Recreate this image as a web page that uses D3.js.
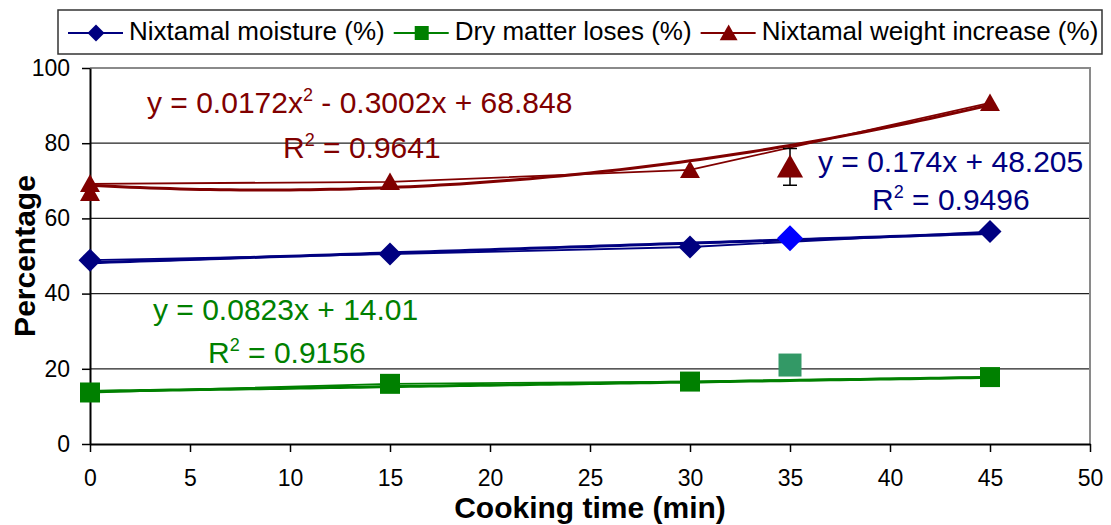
<!DOCTYPE html>
<html>
<head>
<meta charset="utf-8">
<script src="https://cdn.jsdelivr.net/npm/d3@7"></script>
<style>
  body { margin: 0; background: #fff; }
  text { font-family: "Liberation Sans", Arial, sans-serif; }
</style>
</head>
<body>
<svg id="chart" width="1111" height="525"></svg>
<script>
// values
var times = [0, 15, 30, 45];
var moisture = [48.9, 50.5, 52.4, 56.5];
var dryLoss = [13.7, 16.0, 16.6, 17.8];
var weightInc = [69.2, 69.7, 72.9, 90.7];

// separate points (other colour / error bar)
var extraMoisture = [{ t: 35, v: 54.7 }];
var extraDry = [{ t: 35, v: 21.0 }];
var extraWeight = [{ t: 0, v: 66.8, err: 0 }, { t: 35, v: 73.7, err: 4.9 }];

// trend line coefficients as printed on the chart
var moistTrend = [48.205, 0.174, 0];
var dryTrend = [14.01, 0.0823, 0];
var weightTrend = [68.848, -0.3002, 0.0172];

var xTicks = [0, 5, 10, 15, 20, 25, 30, 35, 40, 45, 50];
var yTicks = [0, 20, 40, 60, 80, 100];

var svg = d3.select("#chart"),
    x = d3.scaleLinear().domain([0, 50]).range([90, 1090]),
    y = d3.scaleLinear().domain([0, 100]).range([444, 68]);

// custom marker shapes (Excel style), size = width in px
var diamond = { draw: function (c, s) { var r = s / 2; c.moveTo(0, -r); c.lineTo(r, 0); c.lineTo(0, r); c.lineTo(-r, 0); c.closePath(); } };
var square = { draw: function (c, s) { var r = s / 2; c.rect(-r, -r, s, s); } };
var triangle = { draw: function (c, s) { var r = s / 2; c.moveTo(0, -r); c.lineTo(r * 1.05, r * 0.85); c.lineTo(-r * 1.05, r * 0.85); c.closePath(); } };

// grid + frame
svg.selectAll(".grid")
    .data([20, 40, 60, 80])
    .enter().append("line")
    .attr("x1", x(0)).attr("x2", x(50))
    .attr("y1", function (d) { return y(d); }).attr("y2", function (d) { return y(d); })
    .attr("stroke", "#222").attr("stroke-width", 1.2);

svg.append("path")
    .attr("d", "M" + x(0) + "," + y(100) + "H" + x(50) + "V" + y(0))
    .attr("fill", "none").attr("stroke", "#8a8a8a").attr("stroke-width", 2);

// axes
var yAxis = svg.append("g")
    .attr("transform", "translate(" + x(0) + ",0)")
    .call(d3.axisLeft(y).tickValues(yTicks).tickSize(8).tickSizeOuter(0).tickPadding(12));
var xAxis = svg.append("g")
    .attr("transform", "translate(0," + y(0) + ")")
    .call(d3.axisBottom(x).tickValues(xTicks).tickSize(8).tickSizeOuter(0).tickPadding(18));
[yAxis, xAxis].forEach(function (a) {
    a.selectAll("text").attr("font-size", 23).attr("fill", "#000")
        .style("font-family", "'Liberation Sans', Arial, sans-serif");
    a.selectAll("line").attr("stroke", "#000").attr("stroke-width", 1.5);
    a.select(".domain").attr("stroke", "#000").attr("stroke-width", 2);
});

// axis titles
svg.append("text")
    .attr("x", (x(0) + x(50)) / 2).attr("y", 518)
    .attr("text-anchor", "middle").attr("font-size", 30).attr("font-weight", "bold")
    .text("Cooking time (min)");
svg.append("text")
    .attr("transform", "translate(35," + (y(0) + y(100)) / 2 + ") rotate(-90)")
    .attr("text-anchor", "middle").attr("font-size", 30).attr("font-weight", "bold")
    .text("Percentage");

// series
var series = [
    { vals: moisture, trend: moistTrend, color: "#000080", shape: diamond, size: 23,
      extra: extraMoisture, extraColor: "#0000ff", extraSize: 26 },
    { vals: dryLoss, trend: dryTrend, color: "#008000", shape: square, size: 20,
      extra: extraDry, extraColor: "#339966", extraSize: 23 },
    { vals: weightInc, trend: weightTrend, color: "#800000", shape: triangle, size: 19,
      extra: extraWeight, extraColor: "#800000", extraSize: 25 }
];

var line = d3.line()
    .x(function (d) { return x(d[0]); })
    .y(function (d) { return y(d[1]); });

series.forEach(function (s) {
    var c = s.trend;
    var tPts = d3.range(0, 45.01, 0.5).map(function (t) { return [t, c[0] + c[1] * t + c[2] * t * t]; });
    svg.append("path").attr("d", line(tPts))
        .attr("fill", "none").attr("stroke", s.color).attr("stroke-width", 3);
    svg.append("path").attr("d", line(times.map(function (t, i) { return [t, s.vals[i]]; })))
        .attr("fill", "none").attr("stroke", s.color).attr("stroke-width", 1.8);
});

series.forEach(function (s) {
    svg.selectAll(null)
        .data(times.map(function (t, i) { return [t, s.vals[i]]; }))
        .enter().append("path")
        .attr("transform", function (d) { return "translate(" + x(d[0]) + "," + y(d[1]) + ")"; })
        .attr("d", d3.symbol().type(s.shape).size(s.size))
        .attr("fill", s.color);

    s.extra.forEach(function (p) {
        if (p.err) {
            var ex = x(p.t);
            svg.append("path")
                .attr("d", "M" + ex + "," + y(p.v + p.err) + "V" + y(p.v - p.err) +
                    "M" + (ex - 7) + "," + y(p.v + p.err) + "h14" +
                    "M" + (ex - 7) + "," + y(p.v - p.err) + "h14")
                .attr("stroke", "#000").attr("stroke-width", 1.5).attr("fill", "none");
        }
        svg.append("path")
            .attr("transform", "translate(" + x(p.t) + "," + y(p.v) + ")")
            .attr("d", d3.symbol().type(s.shape).size(p.t === 0 ? s.size : s.extraSize))
            .attr("fill", s.extraColor);
    });
});

// trend equations
var eqs = [
    { color: "#800000", x: 147, y: 113, parts: ["y = 0.0172x", "2", " - 0.3002x + 68.848"] },
    { color: "#800000", x: 283, y: 158, parts: ["R", "2", " = 0.9641"] },
    { color: "#000080", x: 818, y: 172, parts: ["y = 0.174x + 48.205"] },
    { color: "#000080", x: 872, y: 210, parts: ["R", "2", " = 0.9496"] },
    { color: "#008000", x: 153, y: 320, parts: ["y = 0.0823x + 14.01"] },
    { color: "#008000", x: 208, y: 363, parts: ["R", "2", " = 0.9156"] }
];
eqs.forEach(function (e) {
    var t = svg.append("text").attr("x", e.x).attr("y", e.y)
        .attr("font-size", 30).attr("fill", e.color);
    e.parts.forEach(function (p, i) {
        var ts = t.append("tspan").text(p);
        if (i === 1) ts.attr("font-size", 18).attr("dy", -12);
        if (i === 2) ts.attr("dy", 12);
    });
});

// legend
var legendItems = [
    { name: "Nixtamal moisture (%)", color: "#000080", shape: diamond, size: 17 },
    { name: "Dry matter loses (%)", color: "#008000", shape: square, size: 14 },
    { name: "Nixtamal weight increase (%)", color: "#800000", shape: triangle, size: 17 }
];
svg.append("rect")
    .attr("x", 58).attr("y", 10).attr("width", 1044).attr("height", 44)
    .attr("fill", "#fff").attr("stroke", "#333").attr("stroke-width", 1.5);
var cx = 68;
legendItems.forEach(function (d) {
    svg.append("line").attr("x1", cx).attr("x2", cx + 55).attr("y1", 33).attr("y2", 33)
        .attr("stroke", d.color).attr("stroke-width", 2);
    svg.append("path").attr("transform", "translate(" + (cx + 28) + ",33)")
        .attr("d", d3.symbol().type(d.shape).size(d.size)).attr("fill", d.color);
    var t = svg.append("text").attr("x", cx + 61).attr("y", 40)
        .attr("font-size", 26).attr("fill", "#000").text(d.name);
    cx += 61 + t.node().getComputedTextLength() + 9;
});
</script>
</body>
</html>
